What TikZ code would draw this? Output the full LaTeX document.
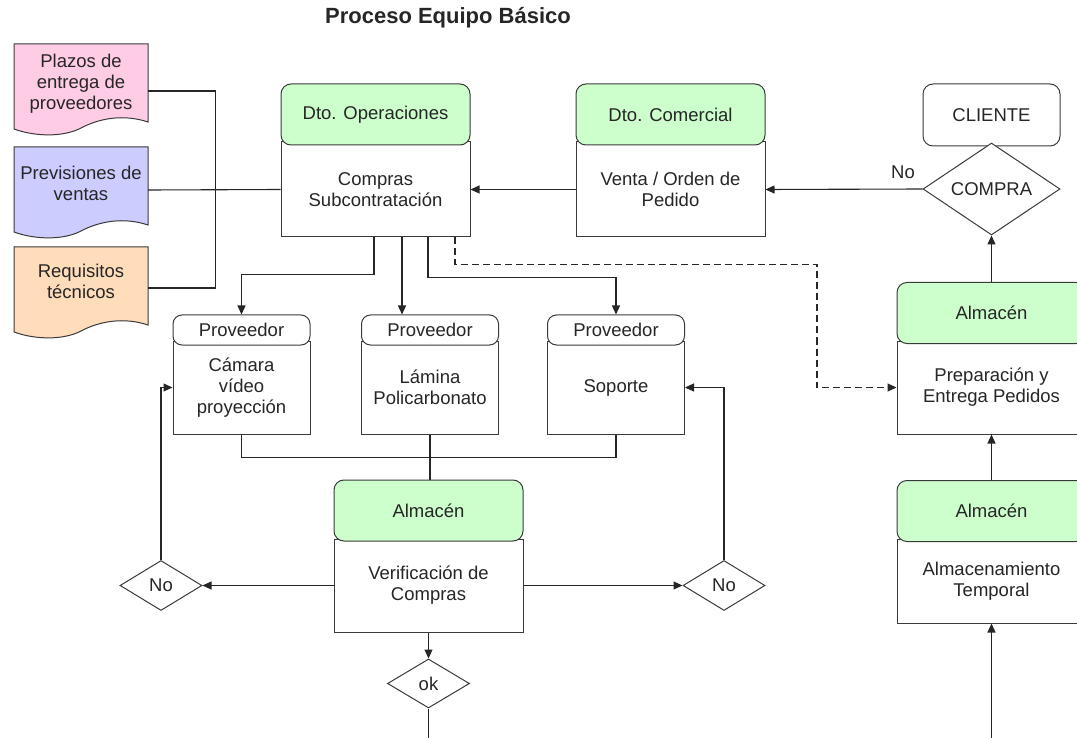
\documentclass[tikz,border=0pt]{standalone}
\usepackage{fontspec}
\setmainfont{Liberation Sans}
\usetikzlibrary{arrows.meta,shapes.geometric,calc}
\definecolor{hdrgreen}{HTML}{CCFFCC}
\definecolor{docpink}{HTML}{FFCCE6}
\definecolor{docblue}{HTML}{CCCCFF}
\definecolor{docpeach}{HTML}{FFDDBB}
\definecolor{edgec}{HTML}{3A3A3A}
\tikzset{
  base/.style={font=\fontsize{18.5}{21}\selectfont, align=center, inner sep=0pt, text=black!85},
  hdr/.style={base, draw=edgec, line width=1pt, fill=hdrgreen, rounded corners=10pt, minimum width=189pt, minimum height=61pt},
  bodybox/.style={base, draw=edgec, line width=1pt, fill=white, minimum width=189pt},
  tagbox/.style={base, draw=edgec, line width=1pt, fill=white, rounded corners=9pt, minimum width=137pt, minimum height=30pt},
  pbody/.style={base, draw=edgec, line width=1pt, fill=white, minimum width=137pt, minimum height=93pt},
  decis/.style={base, diamond, aspect=1.6, draw=edgec, line width=1pt, fill=white},
  docshape/.style={draw=edgec, line width=1pt},
  doctext/.style={base, minimum width=134pt, minimum height=70pt},
  conn/.style={line width=1.1pt, draw=black!85},
  arr/.style={conn, -{Triangle[length=9pt,width=8pt]}},
  dashconn/.style={conn, dash pattern=on 7pt off 4pt, -{Triangle[length=9pt,width=8pt]}},
}
\newcommand{\docpath}[2]{%
  \begin{scope}[shift={(14,#1)}]
    \filldraw[docshape, fill=#2] (0,0) -- (134,0) -- (134,78)
      .. controls (110,70) and (86,74) .. (67,84)
      .. controls (50,93) and (22,93) .. (0,85) -- cycle;
  \end{scope}}
\begin{document}
\begin{tikzpicture}[x=1pt,y=-1pt]
\useasboundingbox (0,0) rectangle (1077,738);
\clip (0,0) rectangle (1077,738);

% title
\node[font=\bfseries\fontsize{22}{26}\selectfont, anchor=base, inner sep=0pt, text=black!85] (title) at (448,24) {Proceso Equipo Básico};

% documents
\docpath{44}{docpink}
\docpath{147}{docblue}
\docpath{247}{docpeach}
\node[doctext] (d1) at (81,84) {Plazos de\\entrega de\\proveedores};
\node[doctext] (d2) at (81,183) {Previsiones de\\ventas};
\node[doctext] (d3) at (81,281) {Requisitos\\técnicos};

% Compras
\node[bodybox, minimum height=95pt] (comp) at (375.5,189.5) {Compras\\Subcontratación};
\node[hdr] (compH) at (375.5,114.5) {Dto. Operaciones};
% Venta
\node[bodybox, minimum height=95pt] (venta) at (670.5,189.5) {Venta / Orden de\\Pedido};
\node[hdr] (ventaH) at (670.5,114.5) {Dto. Comercial};
% Cliente
\node[base, draw=edgec, line width=1pt, fill=white, rounded corners=10pt, minimum width=137pt, minimum height=62pt] (cli) at (991.5,115) {CLIENTE};
\node[decis, minimum width=137pt, minimum height=92pt] (compra) at (991.5,189) {COMPRA};
\node[base] (nolab) at (903,172) {No};

% Almacen right upper
\node[bodybox, minimum height=93pt] (prep) at (991.5,387.5) {Preparación y\\Entrega Pedidos};
\node[hdr] (prepH) at (991.5,313) {Almacén};
% Almacen right lower
\node[bodybox, minimum height=84pt] (almt) at (991.5,581) {Almacenamiento\\Temporal};
\node[hdr] (almtH) at (991.5,511) {Almacén};

% Proveedores
\node[pbody] (p1) at (241.5,387.5) {Cámara\\vídeo\\proyección};
\node[tagbox] (p1t) at (241.5,330) {Proveedor};
\node[pbody] (p2) at (430,387.5) {Lámina\\Policarbonato};
\node[tagbox] (p2t) at (430,330) {Proveedor};
\node[pbody] (p3) at (616,387.5) {Soporte};
\node[tagbox] (p3t) at (616,330) {Proveedor};

% Verificacion
\node[bodybox, minimum height=93pt] (ver) at (428.5,585.5) {Verificación de\\Compras};
\node[hdr] (verH) at (428.5,510.5) {Almacén};

% decisions
\node[decis, minimum width=82pt, minimum height=50pt] (noL) at (161,585.5) {No};
\node[decis, minimum width=82pt, minimum height=50pt] (noR) at (724,585.5) {No};
\node[decis, minimum width=82pt, minimum height=49pt] (ok) at (428.5,683.5) {ok};

% connectors: documents
\draw[conn] ($(d1.east)+(0,7)$) -- ++(67,0) |- ($(d3.east)+(0,7)$);
\draw[conn] ($(d2.east)+(0,7)$) -- (comp.west);

% top row
\draw[arr] (venta.west) -- (comp.east);
\draw[arr] (compra.west) -- (venta.east);
\draw[arr] (prepH.north) -- (compra.south);
\draw[arr] (almtH.north) -- (prep.south);
\coordinate (rbot) at (991.5,738);
\draw[arr] (rbot) -- (almt.south);

% from Compras to proveedores
\coordinate (c1) at ($(comp.south)+(-1.5,0)$);
\coordinate (c2) at ($(comp.south)+(26.5,0)$);
\coordinate (c3) at ($(comp.south)+(52.5,0)$);
\coordinate (c4) at ($(comp.south)+(79.5,0)$);
\draw[arr] (c1) -- ++(0,37) -| (p1t.north);
\draw[arr] (c2) -- (c2 |- p2t.north);
\draw[arr] (c3) -- ++(0,40) -| (p3t.north);
\draw[dashconn] (c4) -- ++(0,27) -- ++(362,0) |- (prep.west);

% collector
\draw[conn] (p1.south) -- ++(0,23) -| (p3.south);
\draw[conn] (p2.south) -- (p2.south |- verH.north);

% verification loops
\draw[arr] (ver.west) -- (noL.east);
\draw[arr] (noL.north) |- (p1.west);
\draw[arr] (ver.east) -- (noR.west);
\draw[arr] (noR.north) |- (p3.east);
\draw[arr] (ver.south) -- (ok.north);
\coordinate (okbot) at (428.5,738);
\draw[conn] (ok.south) -- (okbot);
\end{tikzpicture}
\end{document}
